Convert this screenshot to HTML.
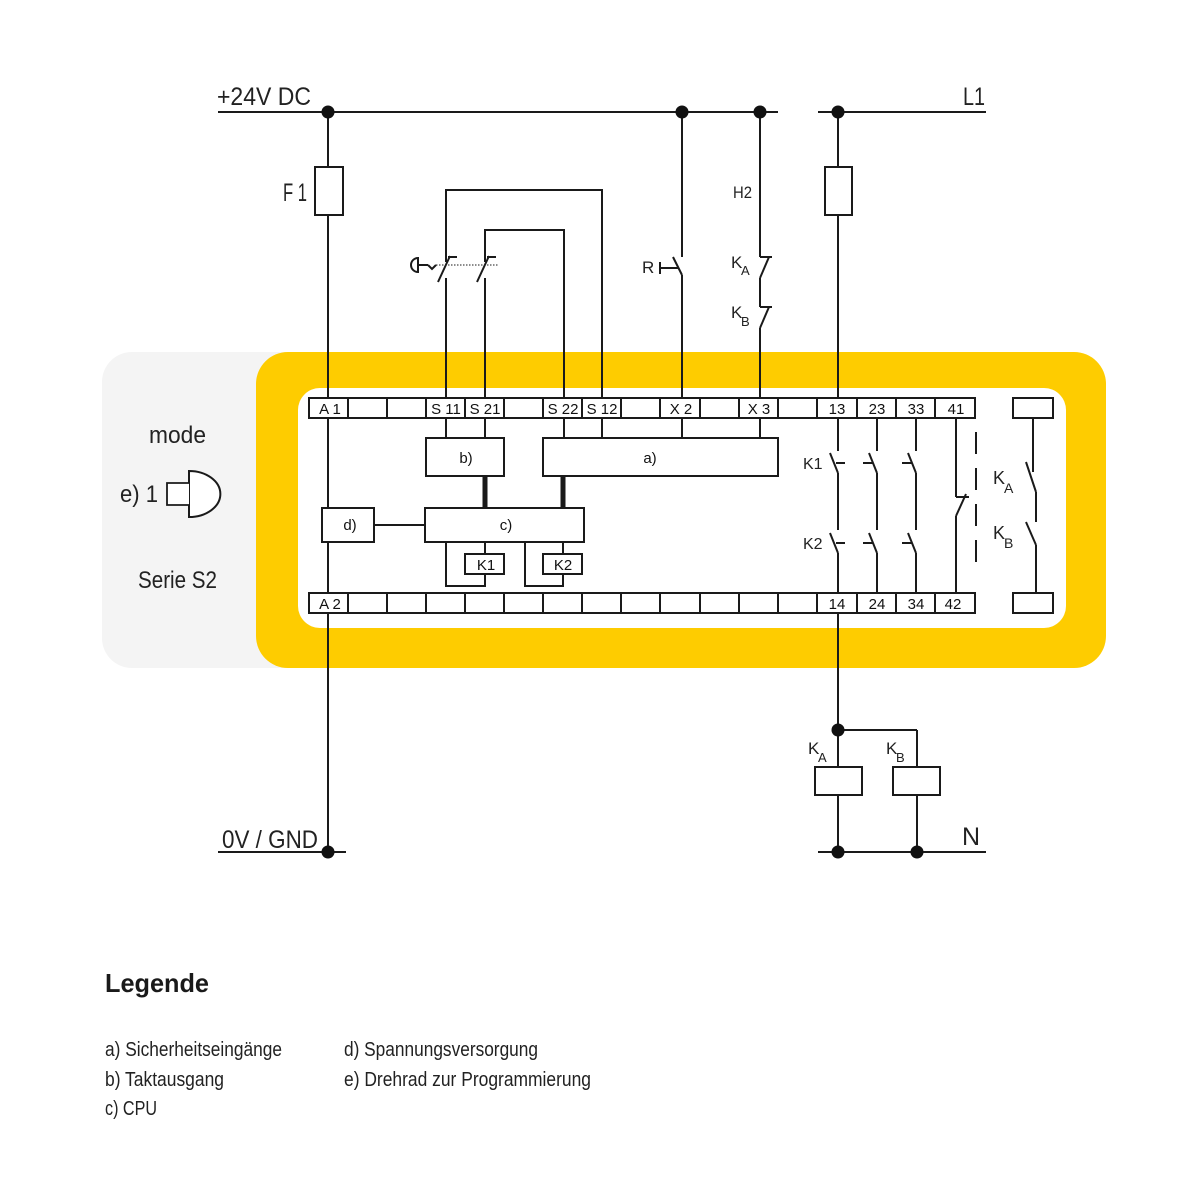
<!DOCTYPE html>
<html><head><meta charset="utf-8"><style>html,body{margin:0;padding:0;background:#fff}svg{display:block}</style></head>
<body>
<svg width="1200" height="1200" viewBox="0 0 1200 1200" xmlns="http://www.w3.org/2000/svg" font-family="Liberation Sans, sans-serif">
<rect x="102" y="352" width="260" height="316" rx="30" fill="#f4f4f4"/>
<rect x="256" y="352" width="850" height="316" rx="32" fill="#fecc00"/>
<rect x="298" y="388" width="768" height="240" rx="22" fill="#fff"/>
<g stroke="#1a1a1a" stroke-width="2" fill="none">
<line x1="218" y1="112" x2="778" y2="112"/>
<line x1="818" y1="112" x2="986" y2="112"/>
<line x1="218" y1="852" x2="346" y2="852"/>
<line x1="818" y1="852" x2="986" y2="852"/>
<line x1="328" y1="112" x2="328" y2="852"/>
<rect x="315" y="167" width="28" height="48" fill="#fff"/>
<polyline points="446,398 446,278"/>
<polyline points="446,262 446,190 602,190 602,398"/>
<polyline points="485,398 485,278"/>
<polyline points="485,262 485,230 564,230 564,398"/>
<line x1="438" y1="282" x2="450" y2="256"/><line x1="448" y1="257" x2="457" y2="257"/>
<line x1="477" y1="282" x2="489" y2="256"/><line x1="487" y1="257" x2="496" y2="257"/>
<path d="M418,258 a7,7 0 0 0 0,14 Z"/><line x1="418" y1="265" x2="428" y2="265"/><path d="M428,265 l4,4 l4,-4"/>
<line x1="436" y1="265" x2="498" y2="265" stroke-dasharray="1.5,1.5" stroke-width="1"/>
<line x1="682" y1="112" x2="682" y2="257"/>
<line x1="673" y1="257" x2="682" y2="275"/>
<line x1="682" y1="275" x2="682" y2="398"/>
<line x1="660" y1="268" x2="678" y2="268"/><line x1="660" y1="262" x2="660" y2="274"/>
<line x1="760" y1="112" x2="760" y2="257"/>
<line x1="760" y1="257" x2="772" y2="257"/><line x1="769" y1="257" x2="760" y2="278"/>
<line x1="760" y1="278" x2="760" y2="307"/>
<line x1="760" y1="307" x2="772" y2="307"/><line x1="769" y1="307" x2="760" y2="328"/>
<line x1="760" y1="328" x2="760" y2="398"/>
<line x1="838" y1="112" x2="838" y2="451"/>
<rect x="825" y="167" width="27" height="48" fill="#fff"/>
<line x1="830" y1="453" x2="838" y2="473"/><line x1="836" y1="463" x2="845" y2="463"/>
<line x1="838" y1="473" x2="838" y2="530"/>
<line x1="830" y1="533" x2="838" y2="553"/><line x1="836" y1="543" x2="845" y2="543"/>
<line x1="838" y1="553" x2="838" y2="852"/>
<line x1="877" y1="418" x2="877" y2="451"/>
<line x1="869" y1="453" x2="877" y2="473"/><line x1="863" y1="463" x2="873" y2="463"/>
<line x1="877" y1="473" x2="877" y2="530"/>
<line x1="869" y1="533" x2="877" y2="553"/><line x1="863" y1="543" x2="873" y2="543"/>
<line x1="877" y1="553" x2="877" y2="593"/>
<line x1="916" y1="418" x2="916" y2="451"/>
<line x1="908" y1="453" x2="916" y2="473"/><line x1="902" y1="463" x2="912" y2="463"/>
<line x1="916" y1="473" x2="916" y2="530"/>
<line x1="908" y1="533" x2="916" y2="553"/><line x1="902" y1="543" x2="912" y2="543"/>
<line x1="916" y1="553" x2="916" y2="593"/>
<line x1="956" y1="418" x2="956" y2="497"/>
<line x1="956" y1="497" x2="969" y2="497"/><line x1="966" y1="494" x2="956" y2="516"/>
<line x1="956" y1="516" x2="956" y2="593"/>
<line x1="976" y1="432" x2="976" y2="575" stroke-dasharray="22,14"/>
<line x1="1033" y1="418" x2="1033" y2="472"/>
<line x1="1026" y1="462" x2="1036" y2="492"/>
<line x1="1036" y1="492" x2="1036" y2="522"/>
<line x1="1026" y1="522" x2="1036" y2="545"/>
<line x1="1036" y1="545" x2="1036" y2="593"/>
<rect x="1013" y="398" width="40" height="20" fill="#fff"/>
<rect x="1013" y="593" width="40" height="20" fill="#fff"/>
<rect x="309" y="398" width="666" height="20" fill="#fff"/>
<rect x="309" y="593" width="666" height="20" fill="#fff"/>
<path d="M348,398v20M387,398v20M426,398v20M465,398v20M504,398v20M543,398v20M582,398v20M621,398v20M660,398v20M700,398v20M739,398v20M778,398v20M817,398v20M857,398v20M896,398v20M935,398v20"/>
<path d="M348,593v20M387,593v20M426,593v20M465,593v20M504,593v20M543,593v20M582,593v20M621,593v20M660,593v20M700,593v20M739,593v20M778,593v20M817,593v20M857,593v20M896,593v20M935,593v20"/>
<path d="M446,418v20M485,418v20M564,418v20M602,418v20M682,418v20M760,418v20"/>
<rect x="426" y="438" width="78" height="38" fill="#fff"/>
<rect x="543" y="438" width="235" height="38" fill="#fff"/>
<rect x="425" y="508" width="159" height="34" fill="#fff"/>
<rect x="322" y="508" width="52" height="34" fill="#fff"/>
<line x1="374" y1="525" x2="425" y2="525"/>
<line x1="485" y1="476" x2="485" y2="508" stroke-width="5"/>
<line x1="563" y1="476" x2="563" y2="508" stroke-width="5"/>
<polyline points="446,542 446,586 485,586 485,574"/>
<line x1="485" y1="542" x2="485" y2="554"/>
<rect x="465" y="554" width="39" height="20" fill="#fff"/>
<polyline points="525,542 525,586 563,586 563,574"/>
<line x1="563" y1="542" x2="563" y2="554"/>
<rect x="543" y="554" width="39" height="20" fill="#fff"/>
<line x1="838" y1="730" x2="917" y2="730"/>
<line x1="917" y1="730" x2="917" y2="852"/>
<rect x="815" y="767" width="47" height="28" fill="#fff"/>
<rect x="893" y="767" width="47" height="28" fill="#fff"/>
<path d="M189,471 a30,22 0 0 1 0,46 Z" fill="#fff"/>
<path d="M189,471 v12 h-22 v22 h22 v12" fill="#fff" stroke-width="1.8"/>
</g>
<g fill="#111">
<circle cx="328" cy="112" r="6.5"/><circle cx="682" cy="112" r="6.5"/><circle cx="760" cy="112" r="6.5"/><circle cx="838" cy="112" r="6.5"/>
<circle cx="328" cy="852" r="6.5"/><circle cx="838" cy="852" r="6.5"/><circle cx="917" cy="852" r="6.5"/><circle cx="838" cy="730" r="6.5"/>
</g>
<g font-size="15" fill="#111" text-anchor="middle">
<text x="330" y="414">A 1</text><text x="446" y="414">S 11</text><text x="485" y="414">S 21</text><text x="563" y="414">S 22</text><text x="602" y="414">S 12</text><text x="681" y="414">X 2</text><text x="759" y="414">X 3</text><text x="837" y="414">13</text><text x="877" y="414">23</text><text x="916" y="414">33</text><text x="956" y="414">41</text>
<text x="330" y="609">A 2</text><text x="837" y="609">14</text><text x="877" y="609">24</text><text x="916" y="609">34</text><text x="953" y="609">42</text>
<text x="466" y="463">b)</text><text x="650" y="463">a)</text><text x="506" y="530">c)</text><text x="350" y="530">d)</text>
<text x="486" y="570">K1</text><text x="563" y="570">K2</text>
</g>
<g font-family="Liberation Sans Narrow, Liberation Sans, sans-serif" fill="#222">
<text x="217" y="105" font-size="25" textLength="94" lengthAdjust="spacingAndGlyphs">+24V DC</text>
<text x="963" y="105" font-size="25" textLength="22" lengthAdjust="spacingAndGlyphs">L1</text>
<text x="283" y="201" font-size="25" textLength="24" lengthAdjust="spacingAndGlyphs">F 1</text>
<text x="222" y="848" font-size="25" textLength="96" lengthAdjust="spacingAndGlyphs">0V / GND</text>
<text x="962" y="845" font-size="25">N</text>
<text x="733" y="198" font-size="17" textLength="19" lengthAdjust="spacingAndGlyphs">H2</text>
<text x="642" y="273" font-size="17">R</text>
<text x="731" y="268" font-size="17">K</text><text x="741" y="275" font-size="13">A</text>
<text x="731" y="318" font-size="17">K</text><text x="741" y="326" font-size="13">B</text>
<text x="803" y="469" font-size="16">K1</text><text x="803" y="549" font-size="16">K2</text>
<text x="993" y="484" font-size="18">K</text><text x="1004" y="493" font-size="14">A</text>
<text x="993" y="539" font-size="18">K</text><text x="1004" y="548" font-size="14">B</text>
<text x="808" y="754" font-size="17">K</text><text x="818" y="762" font-size="13">A</text>
<text x="886" y="754" font-size="17">K</text><text x="896" y="762" font-size="13">B</text>
<text x="149" y="443" font-size="24" textLength="57" lengthAdjust="spacingAndGlyphs">mode</text>
<text x="120" y="502" font-size="24" textLength="38" lengthAdjust="spacingAndGlyphs">e) 1</text>
<text x="138" y="588" font-size="24" textLength="79" lengthAdjust="spacingAndGlyphs">Serie S2</text>
<text x="105" y="992" font-size="26" font-weight="bold" font-family="Liberation Sans, sans-serif" fill="#1a1a1a" textLength="104" lengthAdjust="spacingAndGlyphs">Legende</text>
<g font-size="20">
<text x="105" y="1056" textLength="177" lengthAdjust="spacingAndGlyphs">a) Sicherheitseingänge</text>
<text x="105" y="1086" textLength="119" lengthAdjust="spacingAndGlyphs">b) Taktausgang</text>
<text x="105" y="1115" textLength="52" lengthAdjust="spacingAndGlyphs">c) CPU</text>
<text x="344" y="1056" textLength="194" lengthAdjust="spacingAndGlyphs">d) Spannungsversorgung</text>
<text x="344" y="1086" textLength="247" lengthAdjust="spacingAndGlyphs">e) Drehrad zur Programmierung</text>
</g>
</g>
</svg>
</body></html>
